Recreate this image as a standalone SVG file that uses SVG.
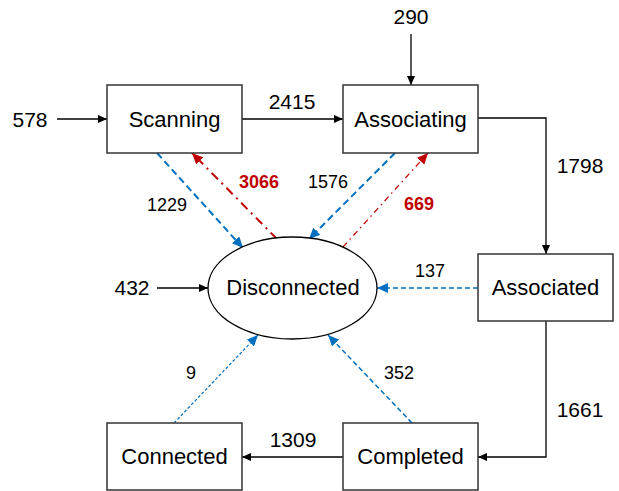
<svg xmlns="http://www.w3.org/2000/svg" width="619" height="491" viewBox="0 0 619 491">
<style>
.box{fill:#fff;stroke:#333;stroke-width:1.5}
.lbl{font-family:"Liberation Sans",Arial,sans-serif;font-size:22px;fill:#000;text-anchor:middle}
.num{font-family:"Liberation Sans",Arial,sans-serif;font-size:21px;fill:#000;text-anchor:middle}
.sm{font-family:"Liberation Sans",Arial,sans-serif;font-size:18px;fill:#000;text-anchor:middle}
.red{font-family:"Liberation Sans",Arial,sans-serif;font-size:18px;fill:#c00000;font-weight:bold;text-anchor:middle}
.k{fill:none;stroke:#000;stroke-width:1.3}
.b{fill:none;stroke:#0070c0}
.r{fill:none;stroke:#c00000}
</style>
<defs>
<marker id="ak" markerUnits="userSpaceOnUse" markerWidth="9" markerHeight="8" refX="9" refY="4" orient="auto"><path d="M0,0 L9,4 L0,8 z" fill="#000"/></marker>
<marker id="ab" markerUnits="userSpaceOnUse" markerWidth="11" markerHeight="10" refX="11" refY="5" orient="auto"><path d="M0,0 L11,5 L0,10 z" fill="#0070c0"/></marker>
<marker id="ar" markerUnits="userSpaceOnUse" markerWidth="11" markerHeight="10" refX="11" refY="5" orient="auto"><path d="M0,0 L11,5 L0,10 z" fill="#c00000"/></marker>
</defs>
<g id="connectors">
<line class="k" x1="57" y1="119" x2="107" y2="119" marker-end="url(#ak)"/>
<line class="k" x1="242" y1="119" x2="343" y2="119" marker-end="url(#ak)"/>
<line class="k" x1="411" y1="34" x2="411" y2="85" marker-end="url(#ak)"/>
<polyline class="k" points="478,118 546,118 546,254" marker-end="url(#ak)"/>
<polyline class="k" points="546,321 546,457 478,457" marker-end="url(#ak)"/>
<line class="k" x1="343" y1="457" x2="242" y2="457" marker-end="url(#ak)"/>
<line class="k" x1="157" y1="288" x2="208" y2="288" marker-end="url(#ak)"/>
<line class="b" x1="157" y1="153" x2="243" y2="248" stroke-width="2" stroke-dasharray="7,4" marker-end="url(#ab)"/>
<line class="r" x1="277" y1="239" x2="192" y2="153" stroke-width="2" stroke-dasharray="9,5,2,5" marker-end="url(#ar)"/>
<line class="b" x1="395" y1="153" x2="309" y2="239" stroke-width="2" stroke-dasharray="7,4" marker-end="url(#ab)"/>
<line class="r" x1="343" y1="247" x2="428" y2="153" stroke-width="1.2" stroke-dasharray="6,4,1.5,4" marker-end="url(#ar)"/>
<line class="b" x1="478" y1="288" x2="377" y2="288" stroke-width="1.5" stroke-dasharray="5,3" marker-end="url(#ab)"/>
<line class="b" x1="174" y1="423" x2="258" y2="335" stroke-width="1.2" stroke-dasharray="3,2" marker-end="url(#ab)"/>
<line class="b" x1="412" y1="423" x2="328" y2="335" stroke-width="1.5" stroke-dasharray="5,3" marker-end="url(#ab)"/>
</g>
<g id="labels">
<text class="num" x="30" y="127">578</text>
<text class="num" x="292" y="109">2415</text>
<text class="num" x="411" y="24">290</text>
<text class="num" x="580" y="173">1798</text>
<text class="num" x="580" y="417">1661</text>
<text class="num" x="132" y="295">432</text>
<text class="num" x="293" y="447">1309</text>
<text class="sm" x="430" y="277">137</text>
<text class="sm" x="167" y="211">1229</text>
<text class="sm" x="328" y="188">1576</text>
<text class="red" x="259" y="188">3066</text>
<text class="red" x="419" y="210">669</text>
<text class="sm" x="191" y="379">9</text>
<text class="sm" x="399" y="379">352</text>
</g>
<g id="scanning"><rect class="box" x="107" y="85" width="135" height="68"/><text class="lbl" x="174.5" y="127">Scanning</text></g>
<g id="associating"><rect class="box" x="343" y="85" width="135" height="68"/><text class="lbl" x="410.5" y="127">Associating</text></g>
<g id="associated"><rect class="box" x="478" y="254" width="135" height="67"/><text class="lbl" x="545.5" y="295">Associated</text></g>
<g id="disconnected"><ellipse fill="#fff" stroke="#000" stroke-width="1.3" cx="292.5" cy="288" rx="84.5" ry="51"/><text class="lbl" x="293" y="295">Disconnected</text></g>
<g id="completed"><rect class="box" x="343" y="423" width="135" height="67"/><text class="lbl" x="410.5" y="464">Completed</text></g>
<g id="connected"><rect class="box" x="107" y="423" width="135" height="67"/><text class="lbl" x="174.5" y="464">Connected</text></g>
</svg>
